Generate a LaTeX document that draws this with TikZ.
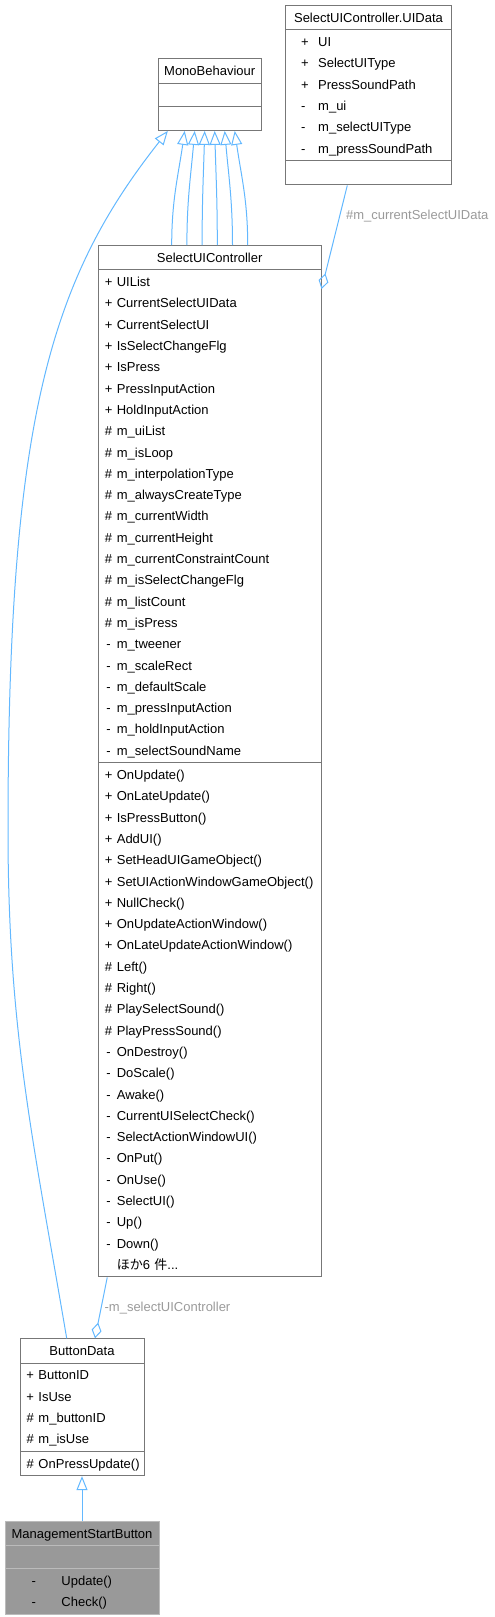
\documentclass[tikz,border=0pt]{standalone}
\usepackage{fontspec}
\setmainfont{Liberation Sans}
\newfontfamily\jpfont{Noto Sans CJK JP}
\usetikzlibrary{arrows.meta,calc,shapes.multipart}
\definecolor{boxline}{HTML}{777777}
\definecolor{curline}{HTML}{BBBBBB}
\definecolor{curfill}{HTML}{999999}
\definecolor{edge}{HTML}{63B8FF}
\definecolor{edgelabel}{HTML}{9A9A9A}

\newcommand{\rowstrut}{\rule[-6pt]{0pt}{21.3pt}}
\newcommand{\emptyrow}{\rule[-5.5pt]{0pt}{20pt}}
\newcommand{\ctitle}[1]{\rowstrut\hfill#1\hfill\null}
\newcommand{\mrow}[2]{\rowstrut\mbox{\makebox[9.5pt]{#1}\hspace{3.5pt}#2}}
\newcommand{\trow}[4]{\rowstrut\mbox{\hspace*{#1}\makebox[#2][l]{#3}#4}}

\begin{document}
\begin{tikzpicture}[x=1pt, y=-1pt,
  font=\fontsize{13pt}{21.3pt}\selectfont,
  classbox/.style={rectangle split, rectangle split parts=3, draw=boxline, fill=white,
    line width=1pt, inner xsep=5.5pt, inner ysep=1pt, align=left, anchor=north},
  curclass/.style={classbox, draw=curline, fill=curfill},
  inherit/.style={draw=edge, line width=1pt, -{Triangle[open, length=14pt, width=11pt]}},
  aggr/.style={draw=edge, line width=1pt, -{Diamond[open, length=16pt, width=10pt]}},
  edgelbl/.style={text=edgelabel, inner sep=1pt}
]
\useasboundingbox (0,0) rectangle (495,1617);

% classes
\node[classbox, text width=154.6pt] (uidata) at (368.5,5) {\ctitle{SelectUIController.UIData}
  \nodepart{two}\trow{10pt}{17pt}{+}{UI}\\
  \trow{10pt}{17pt}{+}{SelectUIType}\\
  \trow{10pt}{17pt}{+}{PressSoundPath}\\
  \trow{10pt}{17pt}{-}{m\_ui}\\
  \trow{10pt}{17pt}{-}{m\_selectUIType}\\
  \trow{10pt}{17pt}{-}{m\_pressSoundPath}
  \nodepart{three}\rowstrut};

\node[classbox, text width=91.7pt] (mono) at (209.7,58.3) {\ctitle{MonoBehaviour}
  \nodepart{two}\emptyrow
  \nodepart{three}\rowstrut};

\node[classbox, text width=211.7pt] (ctrl) at (209.7,245) {\ctitle{SelectUIController}
  \nodepart{two}\mrow{+}{UIList}\\
  \mrow{+}{CurrentSelectUIData}\\
  \mrow{+}{CurrentSelectUI}\\
  \mrow{+}{IsSelectChangeFlg}\\
  \mrow{+}{IsPress}\\
  \mrow{+}{PressInputAction}\\
  \mrow{+}{HoldInputAction}\\
  \mrow{\#}{m\_uiList}\\
  \mrow{\#}{m\_isLoop}\\
  \mrow{\#}{m\_interpolationType}\\
  \mrow{\#}{m\_alwaysCreateType}\\
  \mrow{\#}{m\_currentWidth}\\
  \mrow{\#}{m\_currentHeight}\\
  \mrow{\#}{m\_currentConstraintCount}\\
  \mrow{\#}{m\_isSelectChangeFlg}\\
  \mrow{\#}{m\_listCount}\\
  \mrow{\#}{m\_isPress}\\
  \mrow{-}{m\_tweener}\\
  \mrow{-}{m\_scaleRect}\\
  \mrow{-}{m\_defaultScale}\\
  \mrow{-}{m\_pressInputAction}\\
  \mrow{-}{m\_holdInputAction}\\
  \mrow{-}{m\_selectSoundName}
  \nodepart{three}\mrow{+}{OnUpdate()}\\
  \mrow{+}{OnLateUpdate()}\\
  \mrow{+}{IsPressButton()}\\
  \mrow{+}{AddUI()}\\
  \mrow{+}{SetHeadUIGameObject()}\\
  \mrow{+}{SetUIActionWindowGameObject()}\\
  \mrow{+}{NullCheck()}\\
  \mrow{+}{OnUpdateActionWindow()}\\
  \mrow{+}{OnLateUpdateActionWindow()}\\
  \mrow{\#}{Left()}\\
  \mrow{\#}{Right()}\\
  \mrow{\#}{PlaySelectSound()}\\
  \mrow{\#}{PlayPressSound()}\\
  \mrow{-}{OnDestroy()}\\
  \mrow{-}{DoScale()}\\
  \mrow{-}{Awake()}\\
  \mrow{-}{CurrentUISelectCheck()}\\
  \mrow{-}{SelectActionWindowUI()}\\
  \mrow{-}{OnPut()}\\
  \mrow{-}{OnUse()}\\
  \mrow{-}{SelectUI()}\\
  \mrow{-}{Up()}\\
  \mrow{-}{Down()}\\
  \mrow{}{{\jpfont ほか}6 {\jpfont 件}...}};

\node[classbox, text width=113pt] (btn) at (82,1338.3) {\ctitle{ButtonData}
  \nodepart{two}\mrow{+}{ButtonID}\\
  \mrow{+}{IsUse}\\
  \mrow{\#}{m\_buttonID}\\
  \mrow{\#}{m\_isUse}
  \nodepart{three}\mrow{\#}{OnPressUpdate()}};

\node[curclass, text width=143pt] (msb) at (82,1520.7) {\ctitle{ManagementStartButton}
  \nodepart{two}\emptyrow
  \nodepart{three}\trow{21pt}{30pt}{-}{Update()}\\
  \trow{21pt}{30pt}{-}{Check()}};

% relations
\foreach \i in {0,...,5} {
  \pgfmathsetmacro{\ob}{-38+15.2*\i}
  \pgfmathsetmacro{\ot}{-25+10*\i}
  \pgfmathsetmacro{\ox}{(\ob-\ot)*0.5}
  \draw[inherit] ([xshift=\ob pt]ctrl.north) .. controls +(0,-45)
    and ($([xshift=\ot pt]mono.south)+(\ox,45)$) .. ([xshift=\ot pt]mono.south);
}

\coordinate (leftbend) at (8,830);
\draw[inherit] ([xshift=-15.3pt]btn.north) .. controls (32.7,1138) and (8,1030) .. (leftbend)
  .. controls (8,420) and (50,280) .. ([xshift=10pt]mono.south west);

\draw[aggr] ([xshift=-21.2pt]uidata.south) -- ([yshift=-44pt]ctrl.north east)
  node[edgelbl, pos=0.3, right=5pt] (lblcur) {\#m\_currentSelectUIData};

\draw[aggr] ([xshift=9.4pt]ctrl.south west) -- ([xshift=13pt]btn.north)
  node[edgelbl, pos=0.5, right=2pt] (lblsel) {-m\_selectUIController};

\draw[inherit] (msb.north) -- (btn.south);

\end{tikzpicture}
\end{document}
